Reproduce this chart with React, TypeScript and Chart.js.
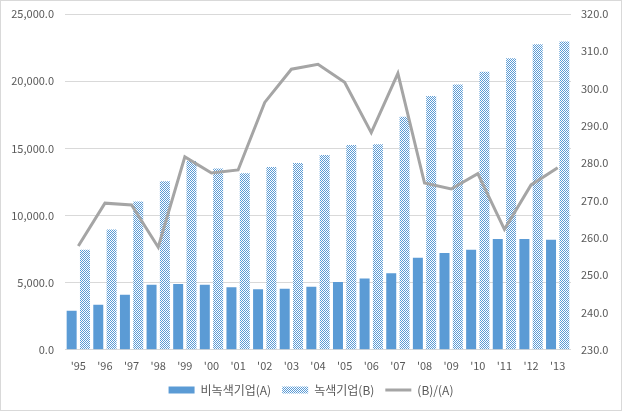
import React, { useEffect, useRef } from "react";
import { Chart, registerables } from "chart.js";

Chart.register(...registerables);

const categories = ["'95", "'96", "'97", "'98", "'99", "'00", "'01", "'02", "'03", "'04", "'05", "'06", "'07", "'08", "'09", "'10", "'11", "'12", "'13"];
const nonGreen = [2900, 3350, 4100, 4850, 4900, 4850, 4650, 4500, 4550, 4700, 5050, 5300, 5700, 6850, 7200, 7450, 8250, 8250, 8200];
const green = [7450, 8950, 11050, 12550, 14050, 13500, 13150, 13600, 13900, 14500, 15250, 15300, 17350, 18900, 19750, 20700, 21700, 22750, 22950];
const ratio = [257.8, 269.3, 268.8, 257.5, 281.7, 277.4, 278.2, 296.3, 305.2, 306.5, 301.7, 288.2, 304.1, 274.7, 273.1, 277.2, 262.3, 274.2, 278.8];
const seriesNames = ["비녹색기업(A)", "녹색기업(B)", "(B)/(A)"];

const FONT = "'Noto Sans CJK KR', 'Noto Sans', sans-serif";
const BLUE = "#5B9BD5";
const GRAY = "#A5A5A5";
const TEXT = "#595959";

function makePattern(): CanvasPattern | string {
  const c = document.createElement("canvas");
  c.width = 2;
  c.height = 2;
  const g = c.getContext("2d");
  if (!g) return BLUE;
  g.fillStyle = "#ffffff";
  g.fillRect(0, 0, 2, 2);
  g.fillStyle = BLUE;
  g.fillRect(0, 0, 1, 1);
  g.fillRect(1, 1, 1, 1);
  const p = g.createPattern(c, "repeat");
  return p || BLUE;
}

export default function App() {
  const ref = useRef<HTMLCanvasElement | null>(null);
  useEffect(() => {
    document.body.style.margin = "0";
    const canvas = ref.current;
    if (!canvas) return;
    const pattern = makePattern();
    const chart = new Chart(canvas, {
      type: "bar",
      data: {
        labels: categories,
        datasets: [
          {
            type: "bar",
            label: seriesNames[0],
            data: nonGreen,
            backgroundColor: BLUE,
            yAxisID: "y",
            categoryPercentage: 1.0,
            barPercentage: 0.75,
            order: 1,
          },
          {
            type: "bar",
            label: seriesNames[1],
            data: green,
            backgroundColor: pattern as any,
            yAxisID: "y",
            categoryPercentage: 1.0,
            barPercentage: 0.75,
            order: 1,
          },
          {
            type: "line",
            label: seriesNames[2],
            data: ratio,
            borderColor: GRAY,
            backgroundColor: GRAY,
            borderWidth: 3,
            pointRadius: 0,
            tension: 0,
            yAxisID: "y1",
            order: -1,
          } as any,
        ],
      },
      options: {
        animation: false,
        responsive: false,
        maintainAspectRatio: false,
        layout: { padding: { top: 13, bottom: 4, left: 0, right: 0 } },
        plugins: {
          tooltip: { enabled: false },
          legend: {
            position: "bottom",
            labels: {
              usePointStyle: true,
              pointStyleWidth: 26,
              boxHeight: 7,
              padding: 11,
              color: TEXT,
              font: { family: FONT, size: 12 },
              sort: (a: any, b: any) => a.datasetIndex - b.datasetIndex,
              generateLabels: (ch: any) =>
                ch.data.datasets.map((ds: any, i: number) => ({
                  text: ds.label,
                  fillStyle: i === 2 ? GRAY : ds.backgroundColor,
                  strokeStyle: i === 2 ? GRAY : "rgba(0,0,0,0)",
                  lineWidth: i === 2 ? 3 : 0,
                  pointStyle: i === 2 ? "line" : "rect",
                  fontColor: TEXT,
                  datasetIndex: i,
                  hidden: false,
                })),
            },
          },
        },
        scales: {
          x: {
            grid: { display: false },
            border: { display: false },
            ticks: { color: TEXT, font: { family: FONT, size: 11 }, padding: 1 },
          },
          y: {
            position: "left",
            min: 0,
            max: 25000,
            afterFit: (s: any) => { s.width = 64; s.paddingTop = 0; s.paddingBottom = 0; },
            ticks: {
              stepSize: 5000,
              color: TEXT,
              padding: 11,
              font: { family: FONT, size: 11 },
              callback: (v: any) => Number(v).toLocaleString("en-US", { minimumFractionDigits: 1, maximumFractionDigits: 1 }),
            },
            grid: { color: "#D9D9D9", drawTicks: false },
            border: { display: false },
          },
          y1: {
            position: "right",
            min: 230,
            max: 320,
            afterFit: (s: any) => { s.width = 50; s.paddingTop = 0; s.paddingBottom = 0; },
            ticks: {
              stepSize: 10,
              color: TEXT,
              padding: 10,
              font: { family: FONT, size: 11 },
              callback: (v: any) => Number(v).toFixed(1),
            },
            grid: { display: false, drawTicks: false },
            border: { display: false },
          },
        },
      },
    });
    return () => chart.destroy();
  }, []);
  return (
    <div style={{ width: 622, height: 411, border: "1px solid #D9D9D9", boxSizing: "border-box", background: "#fff" }}>
      <canvas ref={ref} width={620} height={409} style={{ display: "block", width: 620, height: 409 }} />
    </div>
  );
}
